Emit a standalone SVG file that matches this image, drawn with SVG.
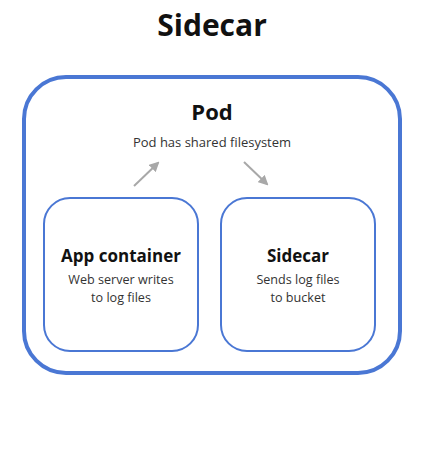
<svg xmlns="http://www.w3.org/2000/svg" width="428" height="463" viewBox="0 0 428 463">
<style>
.t{font-family:"Open Sans",Lato,"Liberation Sans",sans-serif;text-anchor:middle;fill:#111}
.h1{font-size:30px;font-weight:700}
.h2{font-size:22px;font-weight:700}
.h3{font-size:17px;font-weight:700}
.s{font-size:13px;fill:#333}
.sm{font-size:12.6px;fill:#333}
.outer{fill:#fff;stroke:#4a77d4;stroke-width:4}
.inner{fill:#fff;stroke:#4a77d4;stroke-width:2}
.arr{stroke:#a8a8a8;stroke-width:2;fill:none;marker-end:url(#ah)}
</style>
<defs>
<marker id="ah" viewBox="0 0 10 10" refX="8" refY="5" markerWidth="5" markerHeight="5" orient="auto"><path d="M0,0 L10,5 L0,10 z" fill="#a8a8a8"/></marker>
</defs>
<rect width="428" height="463" fill="#fff"/>
<text class="t h1" x="212" y="36">Sidecar</text>
<g id="pod">
<rect class="outer" x="24" y="77" width="376" height="296" rx="42"/>
<text class="t h2" x="212" y="120">Pod</text>
<text class="t s" x="212" y="147">Pod has shared filesystem</text>
</g>
<g id="app">
<rect class="inner" x="44" y="198" width="154" height="153" rx="26"/>
<text class="t h3" x="121" y="262">App container</text>
<text class="t sm" x="121" y="284">Web server writes</text>
<text class="t sm" x="121" y="301.5">to log files</text>
</g>
<g id="sidecar">
<rect class="inner" x="221" y="198" width="154" height="153" rx="26"/>
<text class="t h3" x="298" y="262">Sidecar</text>
<text class="t sm" x="298" y="284">Sends log files</text>
<text class="t sm" x="298" y="301.5">to bucket</text>
</g>
<g id="connectors">
<line class="arr" x1="134" y1="186" x2="158" y2="163"/>
<line class="arr" x1="244" y1="162" x2="267" y2="184"/>
</g>
</svg>
